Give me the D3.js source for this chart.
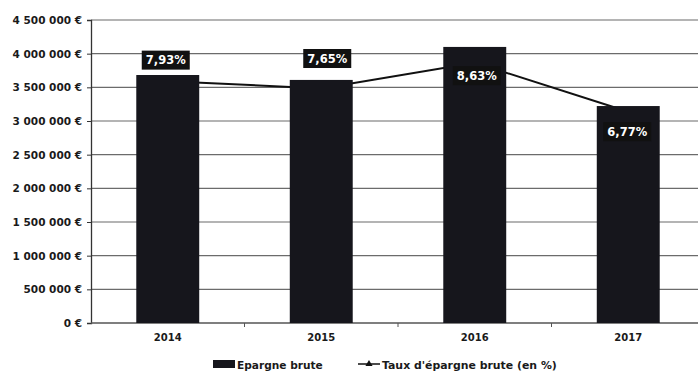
<!DOCTYPE html>
<html>
<head>
<meta charset="utf-8">
<script src="https://cdn.jsdelivr.net/npm/d3@7/dist/d3.min.js"></script>
<style>
  html, body { margin: 0; padding: 0; background: #fff; }
  svg { display: block; }
  text { font-family: "DejaVu Sans", Verdana, sans-serif; font-weight: bold; fill: #1a1a1a; }
</style>
</head>
<body>
<svg id="chart" width="698" height="374"></svg>
<script>
// Épargne brute (€) and taux d'épargne brute (%) per year
const years = ["2014", "2015", "2016", "2017"];
const epargneBrute = [3683000, 3610000, 4100000, 3222000];
const tauxEpargne = [7.93, 7.65, 8.63, 6.77];
const tauxLabels = ["7,93%", "7,65%", "8,63%", "6,77%"];
const yTicks = [0, 500000, 1000000, 1500000, 2000000, 2500000, 3000000, 3500000, 4000000, 4500000];

const svg = d3.select("#chart");
const m = { left: 91, right: -7, top: 20, bottom: 51 };
const W = 698, H = 374;
const plotBottom = H - m.bottom;

const x = d3.scaleBand().domain(years)
  .range([m.left, W - m.right])
  .paddingInner(0.59).paddingOuter(0.295);

const y = d3.scaleLinear().domain([0, 4500000]).range([plotBottom, m.top]);
// secondary (hidden) scale for the rate line
const y2 = d3.scaleLinear().domain([-1.25, 10.25]).range([plotBottom, m.top]);

const fmtEuro = v => (v === 0 ? "0" : d3.format(",")(v).replace(/,/g, "\u00a0")) + "\u00a0€";

// horizontal gridlines
svg.append("g").selectAll("line").data(yTicks.filter(d => d > 0)).join("line")
  .attr("x1", m.left).attr("x2", W)
  .attr("y1", d => y(d)).attr("y2", d => y(d))
  .attr("stroke", "#6b6b6b").attr("stroke-width", 1.2);

// y axis
const yAxis = svg.append("g").attr("transform", `translate(${m.left},0)`)
  .call(d3.axisLeft(y).tickValues(yTicks).tickFormat(fmtEuro).tickSize(4).tickPadding(5));
yAxis.select(".domain").attr("stroke", "#333").attr("stroke-width", 1.3);
yAxis.selectAll(".tick line").attr("stroke", "#333");
yAxis.selectAll("text").style("font-size", "10.5px").attr("fill", "#1a1a1a");

// x axis
const step = x.step();
const xAxis = svg.append("g").attr("transform", `translate(0,${plotBottom})`);
xAxis.append("line").attr("x1", m.left).attr("x2", W).attr("y1", 0).attr("y2", 0)
  .attr("stroke", "#555").attr("stroke-width", 1.3);
xAxis.selectAll(".sep").data(years.slice(1)).join("line")
  .attr("x1", d => x(d) - step * x.paddingInner() / 2)
  .attr("x2", d => x(d) - step * x.paddingInner() / 2)
  .attr("y1", 0).attr("y2", 4).attr("stroke", "#555");
xAxis.selectAll("text").data(years).join("text")
  .attr("x", d => x(d) + x.bandwidth() / 2).attr("y", 18)
  .attr("text-anchor", "middle").style("font-size", "10px").text(d => d);

// rate line (drawn beneath the bars)
const pts = years.map((d, i) => [x(d) + x.bandwidth() / 2, y2(tauxEpargne[i])]);
svg.append("path").datum(pts)
  .attr("d", d3.line())
  .attr("fill", "none").attr("stroke", "#111").attr("stroke-width", 2);

// bars
svg.append("g").selectAll("rect").data(years).join("rect")
  .attr("x", d => x(d)).attr("width", x.bandwidth())
  .attr("y", (d, i) => y(epargneBrute[i]))
  .attr("height", (d, i) => plotBottom - y(epargneBrute[i]))
  .attr("fill", "#16161c");

// rate labels, nudged off the line point
const nudge = [[-2, -21], [6, -30], [2, 13], [-1, 20]];
const lab = svg.append("g").selectAll("g").data(years).join("g")
  .attr("transform", (d, i) => `translate(${pts[i][0] + nudge[i][0]},${pts[i][1] + nudge[i][1]})`);
lab.append("rect").attr("x", -24).attr("y", -9.5).attr("width", 48).attr("height", 19)
  .attr("fill", "#111");
lab.append("text").attr("text-anchor", "middle").attr("dy", "0.36em")
  .style("font-size", "11.5px").style("fill", "#fff").text((d, i) => tauxLabels[i]);

// legend
const lg = svg.append("g").attr("transform", `translate(0,${H - 5})`);
lg.append("rect").attr("x", 213).attr("y", -9).attr("width", 22).attr("height", 8).attr("fill", "#16161c");
lg.append("text").attr("x", 237).attr("y", 0).style("font-size", "10.6px").text("Epargne brute");
lg.append("line").attr("x1", 358).attr("x2", 380).attr("y1", -5).attr("y2", -5)
  .attr("stroke", "#111").attr("stroke-width", 1.5);
lg.append("path").attr("d", d3.symbol(d3.symbolTriangle, 22)())
  .attr("transform", "translate(369,-5)").attr("fill", "#111");
lg.append("text").attr("x", 382).attr("y", 0).style("font-size", "10.9px").text("Taux d'épargne brute (en %)");
</script>
</body>
</html>
